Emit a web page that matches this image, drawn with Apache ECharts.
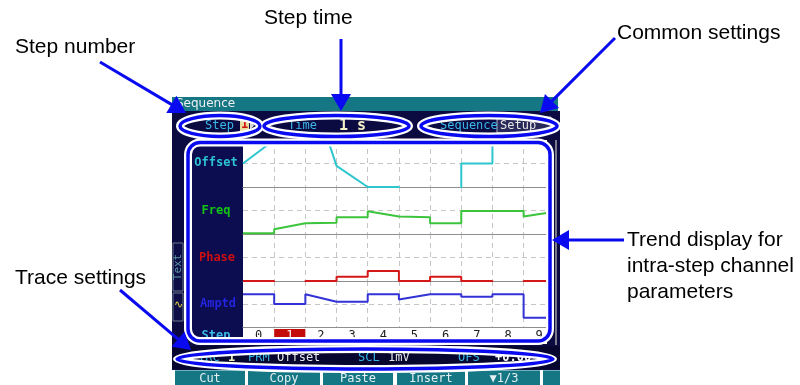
<!DOCTYPE html>
<html><head><meta charset="utf-8">
<script src="https://cdn.jsdelivr.net/npm/echarts/dist/echarts.min.js"></script>
<style>html,body{margin:0;padding:0;background:#fff}#c{width:800px;height:385px}</style>
</head><body><div id="c"></div>
<script>
// ---- data (band units: 0 = baseline, 1 = dashed midline, 2 = top of band) ----
const steps = [0, 1, 2, 3, 4, 5, 6, 7, 8, 9];
const stepLabels = ['0', '1', '2', '3', '4', '5', '6', '7', '8', '9'];
const selectedStep = 1;
const visibleSteps = 9.75;
const traceNames = ['Offset', 'Freq', 'Phase', 'Amptd'];
const offsetStart = [1.0, 3.0, 4.9, 0.9, 0.0, -1.0, -1.0, 1.0, 3.0, 3.0];
const offsetEnd   = [2.0, 3.0, 0.9, 0.0, 0.0, -1.0, -1.0, 1.0, 3.0, 3.0];
const freqStart   = [0.03, 0.20, 0.46, 0.71, 0.97, 0.71, 0.46, 0.98, 0.98, 0.74];
const freqEnd     = [0.03, 0.46, 0.48, 0.71, 0.74, 0.71, 0.46, 0.98, 0.98, 0.95];
const phaseStart  = [0.0, -1.0, 0.0, 0.18, 0.43, 0.0, 0.18, 0.0, -1.0, 0.0];
const phaseEnd    = [0.0, -1.0, 0.0, 0.18, 0.43, 0.0, 0.18, 0.0, -1.0, 0.0];
const amptdStart  = [1.42, 1.0, 1.42, 1.1, 1.42, 1.2, 1.42, 1.32, 1.42, 0.40];
const amptdEnd    = [1.42, 1.0, 1.1, 1.1, 1.42, 1.42, 1.42, 1.32, 1.42, 0.40];
const statusItems = ['TRC', '1', 'PRM', 'Offset', 'SCL', '1mV', 'OFS', '+0.00'];
const buttonLabels = ['Cut', 'Copy', 'Paste', 'Insert', '\u25BC1/3', ''];

// ---- styles / layout ----
const traceColors = ['#2ec6cf', '#3cc43c', '#d41818', '#3232d6'];
const labelColors = ['#2cc4d4', '#14c414', '#cc1010', '#2424e0'];
const NAVY = '#0b0b42', PANEL = '#0c0c50', TEAL = '#167784', BLUE = '#0a0af0';
const plotLeft = 243, plotWidth = 304;
const bandTops = [140, 187, 234, 281];
const bandHeights = [47, 47, 47, 46];
const mono = 'DejaVu Sans Mono';

function buildTrace(st, en) {
  const d = [];
  steps.forEach(i => { d.push([i, st[i]]); d.push([i + 1, en[i]]); });
  return d;
}
const traces = [buildTrace(offsetStart, offsetEnd), buildTrace(freqStart, freqEnd),
                buildTrace(phaseStart, phaseEnd), buildTrace(amptdStart, amptdEnd)];

const grids = [], xAxes = [], yAxes = [], series = [];
const dash = {color: '#c6c6c6', width: 1, type: [5, 4]};
bandTops.forEach((t, i) => {
  grids.push({left: plotLeft, width: plotWidth, top: t, height: bandHeights[i], show: true, backgroundColor: '#ffffff', borderWidth: 0});
  xAxes.push({type: 'value', gridIndex: i, min: 0, max: visibleSteps, interval: 1, z: 2,
    axisLine: {show: true, onZero: true, lineStyle: {color: '#8e8e8e', width: 1}}, axisTick: {show: false}, axisLabel: {show: false},
    splitLine: {show: true, showMinLine: false, showMaxLine: false, lineStyle: dash}});
  yAxes.push({type: 'value', gridIndex: i, min: 0, max: 2, interval: 1, z: 2,
    axisLine: {show: false}, axisTick: {show: false}, axisLabel: {show: false},
    splitLine: {show: true, showMinLine: false, showMaxLine: false, lineStyle: dash}});
  series.push({type: 'line', name: traceNames[i], xAxisIndex: i, yAxisIndex: i, data: traces[i], clip: true,
    symbol: 'none', lineStyle: {color: traceColors[i], width: 2}, z: 3});
});
// step row
grids.push({left: plotLeft, width: plotWidth, top: 329, height: 11, show: false});
xAxes.push({type: 'value', gridIndex: 4, min: 0, max: visibleSteps, show: false});
yAxes.push({type: 'value', gridIndex: 4, min: 0, max: 1, show: false});
series.push({type: 'custom', xAxisIndex: 4, yAxisIndex: 4, data: steps.map(s => [s]), z: 3,
  renderItem(params, api) {
    const s = api.value(0);
    const p0 = api.coord([s, 1]), p1 = api.coord([s + 1, 0]);
    const ch = [];
    if (s === selectedStep) ch.push({type: 'rect', shape: {x: p0[0], y: p0[1], width: p1[0] - p0[0], height: p1[1] - p0[1]}, style: {fill: '#c40c0c'}});
    ch.push({type: 'text', style: {text: stepLabels[s], x: (p0[0] + p1[0]) / 2, y: (p0[1] + p1[1]) / 2 + 1,
      textAlign: 'center', textVerticalAlign: 'middle', align: 'center', verticalAlign: 'middle',
      font: '12px ' + mono, fill: s === selectedStep ? '#ffffff' : '#202020'}});
    return {type: 'group', children: ch};
  }});

// ---- decorations ----
function txt(text, x, y, color, size, opts) {
  opts = opts || {};
  return {type: 'text', z: opts.z || -5, style: {text, x, y, fill: color,
    font: (opts.bold ? 'bold ' : '') + size + 'px ' + (opts.family || mono),
    textAlign: opts.align || 'left', align: opts.align || 'left', textVerticalAlign: 'middle', verticalAlign: 'middle'}};
}
function rect(x, y, w, h, fill, extra) {
  return Object.assign({type: 'rect', z: -10, shape: {x, y, width: w, height: h}, style: {fill}}, extra || {});
}
const bg = [
  rect(172, 97, 386, 14, TEAL),
  txt('Sequence', 176, 104, '#f0f0f0', 12, {family: 'DejaVu Sans'}),
  rect(172, 111, 388, 259, NAVY),
  rect(190, 143, 53, 200, PANEL),
  rect(243, 327, 304, 17, '#ffffff'),
  rect(555, 140, 2, 205, '#7a7a8a'),
  // row 2
  txt('Step', 205, 126, '#3ab8e6', 12),
  rect(240, 117, 9, 15, '#e8dca0'),
  txt('1', 241, 125, '#d01010', 12, {bold: true}),
  {type: 'polygon', z: -5, shape: {points: [[250, 121], [250, 130], [254, 125.5]]}, style: {fill: '#d8d8d8'}},
  txt('Time', 288, 126, '#3ab8e6', 12),
  txt('1 s', 339, 126, '#f4f0c8', 15, {bold: true}),
  txt('Sequence', 440, 126, '#3ab8e6', 12),
  rect(497, 117, 54, 16, '#2a2a5a', {style: {fill: '#2a2a5a', stroke: '#b0b0c0', lineWidth: 1}}),
  txt('Setup', 500, 125.5, '#e6e6e6', 12),
  // label panel
  txt('Offset', 216, 163, labelColors[0], 12, {bold: true, align: 'center'}),
  txt('Freq', 216, 211, labelColors[1], 12, {bold: true, align: 'center'}),
  txt('Phase', 217, 258, labelColors[2], 12, {bold: true, align: 'center'}),
  txt('Amptd', 218, 304, labelColors[3], 12, {bold: true, align: 'center'}),
  txt('Step', 216, 336, '#3ab8e6', 12, {bold: true, align: 'center'}),
  // side tabs
  rect(173, 243, 10, 48, '#0d0d48', {style: {fill: '#0d0d48', stroke: '#6a7a88', lineWidth: 1}}),
  {type: 'text', z: -5, x: 178, y: 267, rotation: Math.PI / 2,
   style: {text: 'Text', x: 0, y: 0, fill: '#5a9aa0', font: '11px ' + mono, textAlign: 'center', align: 'center', textVerticalAlign: 'middle', verticalAlign: 'middle'}},
  rect(173, 293, 10, 28, '#0d0d48', {style: {fill: '#0d0d48', stroke: '#6a7a88', lineWidth: 1}}),
  txt('\u223F', 178, 305, '#e8d040', 11, {align: 'center'}),
  // status row
  rect(172, 346, 388, 23, '#06062e'),
  txt(statusItems[0], 198, 358, '#34b4e6', 12),
  txt(statusItems[1], 228, 358, '#f4f0c0', 12, {bold: true}),
  txt(statusItems[2], 248, 358, '#34b4e6', 12),
  txt(statusItems[3], 277, 358, '#e8e8e8', 12),
  txt(statusItems[4], 358, 358, '#34b4e6', 12),
  txt(statusItems[5], 388, 358, '#e8e8e8', 12),
  txt(statusItems[6], 458, 358, '#34b4e6', 12),
  txt(statusItems[7], 495, 358, '#ffffff', 12, {bold: true})
];
const btnX = [[175, 245], [248, 320], [323, 393], [397, 465], [468, 540], [543, 560]];
btnX.forEach((b, i) => {
  bg.push(rect(b[0], 370, b[1] - b[0], 15, TEAL));
  bg.push(rect(b[0], 370, b[1] - b[0], 1, '#6fb0bb'));
  if (buttonLabels[i]) bg.push(txt(buttonLabels[i], (b[0] + b[1]) / 2, 379, '#e4f0f2', 12, {align: 'center'}));
});

// annotations
const ann = [];
function halo(shapeType, shape) {
  ann.push({type: shapeType, z: 100, shape, style: {fill: 'none', stroke: '#ffffff', lineWidth: 8}});
  ann.push({type: shapeType, z: 101, shape, style: {fill: 'none', stroke: BLUE, lineWidth: 3.5}});
}
halo('ellipse', {cx: 220, cy: 126, rx: 40, ry: 10.5});
halo('ellipse', {cx: 336.5, cy: 126, rx: 72.5, ry: 10.5});
halo('ellipse', {cx: 489, cy: 126, rx: 68, ry: 10.5});
halo('rect', {x: 188, y: 142.5, width: 362, height: 198.5, r: 12});
halo('ellipse', {cx: 365, cy: 359, rx: 188, ry: 10});
function arrow(x1, y1, x2, y2) {
  const L = Math.hypot(x2 - x1, y2 - y1), ux = (x2 - x1) / L, uy = (y2 - y1) / L;
  const hl = 17, hw = 10, bx = x2 - ux * hl, by = y2 - uy * hl;
  ann.push({type: 'line', z: 102, shape: {x1, y1, x2: bx + ux * 2, y2: by + uy * 2}, style: {stroke: BLUE, lineWidth: 3}});
  ann.push({type: 'polygon', z: 102, shape: {points: [[x2, y2], [bx - uy * hw, by + ux * hw], [bx + uy * hw, by - ux * hw]]}, style: {fill: BLUE}});
}
arrow(100, 62, 186, 113);
arrow(341, 39, 341, 111);
arrow(615, 38, 540, 113);
arrow(624, 240, 552, 240);
arrow(120, 290, 191, 350);
const af = 'Liberation Sans';
ann.push(txt('Step number', 15, 47, '#000', 21, {family: af, z: 103}));
ann.push(txt('Step time', 264, 18, '#000', 21, {family: af, z: 103}));
ann.push(txt('Common settings', 617, 33, '#000', 21, {family: af, z: 103}));
ann.push(txt('Trend display for', 627, 240, '#000', 21, {family: af, z: 103}));
ann.push(txt('intra-step channel', 627, 266, '#000', 21, {family: af, z: 103}));
ann.push(txt('parameters', 627, 292, '#000', 21, {family: af, z: 103}));
ann.push(txt('Trace settings', 15, 278, '#000', 21, {family: af, z: 103}));

const chart = echarts.init(document.getElementById('c'), null, {renderer: 'canvas'});
chart.setOption({
  backgroundColor: '#ffffff',
  animation: false,
  grid: grids, xAxis: xAxes, yAxis: yAxes, series,
  graphic: {elements: bg.concat(ann)}
});
</script></body></html>
